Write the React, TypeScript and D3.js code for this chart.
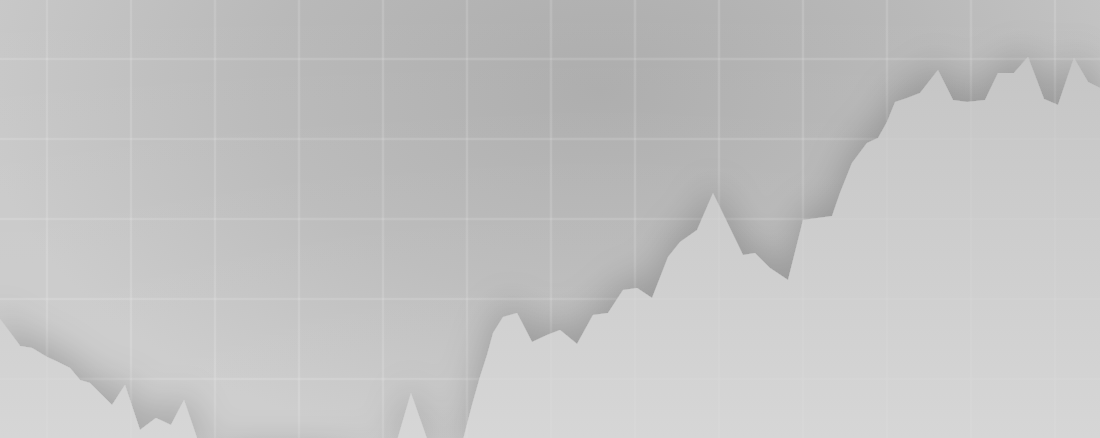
import React, { useEffect, useRef } from 'react';
import * as d3 from 'd3';

// day offsets of each sample
const days = [
  3.08, 4.58, 4.75, 5.75, 7.0, 7.92, 8.92, 9.75, 10.58, 12.42, 13.5, 14.75, 16.08, 17.33, 18.42, 19.5,
  20.75, 22.67, 24.75, 27.25, 29.75, 32.25, 34.33, 35.75, 37.33, 39.17, 40.58, 41.67, 42.42, 43.08,
  43.67, 44.17, 45.0, 46.17, 47.42, 48.67, 49.75, 51.17, 52.5, 53.75, 55.0, 56.17, 57.42, 58.75,
  59.75, 61.17, 62.5, 65.0, 66.0, 67.25, 68.75, 70.0, 72.42, 73.08, 74.08, 75.33, 76.25, 77.0,
  77.67, 78.67, 79.75, 81.25, 82.5, 83.67, 85.17, 86.25, 87.58, 88.75, 90.08, 91.25, 92.58, 93.75, 94.75,
];

const values = [
  55.0, 49.0, 48.25, 47.75, 45.5, 44.25, 42.75, 39.75, 39.0, 33.5, 38.5, 27.25, 30.25, 28.5, 34.75, 25.25,
  19.25, 14.75, 12.25, 13.5, 15.25, 17.25, 18.5, 20.25, 36.5, 20.75, 18.5, 24.75, 33.5, 40.5,
  46.0, 51.5, 55.5, 56.5, 49.25, 51.0, 52.25, 48.75, 56.0, 56.5, 62.25, 62.75, 60.25, 70.5,
  74.25, 77.25, 86.5, 71.0, 71.5, 67.75, 64.75, 79.75, 80.75, 86.5, 94.0, 99.0, 100.25, 104.25,
  109.25, 110.25, 111.5, 117.25, 109.75, 109.25, 109.75, 116.5, 116.5, 120.5, 110.0, 108.5, 120.25, 114.25, 112.75,
];

const xTicks = [7, 14, 21, 28, 35, 42, 49, 56, 63, 70, 77, 84, 91];
const yTicks = [40, 60, 80, 100, 120];

export default function App() {
  const svgRef = useRef<SVGSVGElement>(null);

  useEffect(() => {
    document.body.style.margin = '0';
    if (!svgRef.current) return;

    const width = 1100;
    const height = 438;

    const svg = d3.select(svgRef.current);
    svg.selectAll('*').remove();

    const x = d3.scaleLinear().domain([0, 98]).range([-37, 1139]);
    const y = d3.scaleLinear().domain([0, 120]).range([539, 59]);

    const defs = svg.append('defs');

    const bg = defs.append('radialGradient')
      .attr('id', 'bg')
      .attr('gradientUnits', 'userSpaceOnUse')
      .attr('cx', 600).attr('cy', 90).attr('r', 620)
      .attr('gradientTransform', 'translate(0,36) scale(1,0.6)');
    bg.append('stop').attr('offset', '0%').attr('stop-color', '#acacac');
    bg.append('stop').attr('offset', '55%').attr('stop-color', '#b9b9b9');
    bg.append('stop').attr('offset', '100%').attr('stop-color', '#c8c8c8');

    const fade = defs.append('linearGradient')
      .attr('id', 'fade')
      .attr('x1', 0).attr('y1', 0).attr('x2', 0).attr('y2', 1);
    fade.append('stop').attr('offset', '0%').attr('stop-color', '#fff').attr('stop-opacity', 0);
    fade.append('stop').attr('offset', '100%').attr('stop-color', '#fff').attr('stop-opacity', 0.12);

    const fill = defs.append('linearGradient')
      .attr('id', 'fill')
      .attr('gradientUnits', 'userSpaceOnUse')
      .attr('x1', 0).attr('y1', 50).attr('x2', 0).attr('y2', height);
    fill.append('stop').attr('offset', '0%').attr('stop-color', '#c5c5c5');
    fill.append('stop').attr('offset', '100%').attr('stop-color', '#d6d6d6');

    const shadow = defs.append('filter')
      .attr('id', 'shadow')
      .attr('x', '-10%').attr('y', '-40%').attr('width', '120%').attr('height', '180%');
    shadow.append('feGaussianBlur').attr('in', 'SourceAlpha').attr('stdDeviation', 18).attr('result', 'blur');
    shadow.append('feOffset').attr('in', 'blur').attr('dy', -10).attr('result', 'off');
    shadow.append('feFlood').attr('flood-color', '#000').attr('flood-opacity', 0.2);
    shadow.append('feComposite').attr('in2', 'off').attr('operator', 'in').attr('result', 'sh');
    const merge = shadow.append('feMerge');
    merge.append('feMergeNode').attr('in', 'sh');
    merge.append('feMergeNode').attr('in', 'SourceGraphic');

    const soft = defs.append('filter').attr('id', 'soft');
    soft.append('feGaussianBlur').attr('stdDeviation', 0.6);

    svg.append('rect').attr('width', width).attr('height', height).attr('fill', 'url(#bg)');
    svg.append('rect').attr('width', width).attr('height', height).attr('fill', 'url(#fade)');

    const drawGrid = (opacity: number) => {
      const g = svg.append('g')
        .attr('stroke', '#fff')
        .attr('stroke-opacity', opacity)
        .attr('stroke-width', 2.5)
        .attr('filter', 'url(#soft)');
      g.selectAll('line.v')
        .data(xTicks)
        .enter()
        .append('line')
        .attr('x1', (d: number) => x(d)).attr('x2', (d: number) => x(d))
        .attr('y1', 0).attr('y2', height);
      g.selectAll('line.h')
        .data(yTicks)
        .enter()
        .append('line')
        .attr('y1', (d: number) => y(d)).attr('y2', (d: number) => y(d))
        .attr('x1', 0).attr('x2', width);
    };

    drawGrid(0.09);

    const pts = days.map((d, i) => [d, values[i]] as [number, number]);
    const area = d3.area<[number, number]>()
      .x((d) => x(d[0]))
      .y0(height + 20)
      .y1((d) => y(d[1]))
      .curve(d3.curveLinear);

    svg.append('path')
      .datum(pts)
      .attr('d', area)
      .attr('fill', 'url(#fill)')
      .attr('filter', 'url(#shadow)');

    drawGrid(0.04);
  }, []);

  return <svg ref={svgRef} width={1100} height={438} style={{ display: 'block' }} />;
}
